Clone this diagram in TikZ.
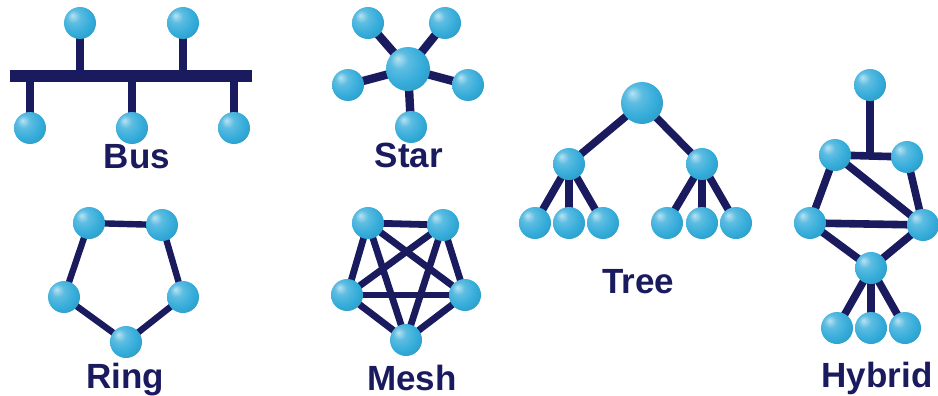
\documentclass[tikz,border=0pt]{standalone}
\usepackage{fontspec}
\setmainfont{Liberation Sans}
\usetikzlibrary{positioning}
\definecolor{netnavy}{RGB}{26,26,94}
\definecolor{netblue}{RGB}{52,172,218}
\pgfdeclareradialshading{netball}{\pgfqpoint{-12bp}{12bp}}{%
  color(0bp)=(netblue!35!white); color(10bp)=(netblue!80!white);
  color(24bp)=(netblue); color(40bp)=(netblue!85!black); color(60bp)=(netblue!55!black)}
\pgfdeclarelayer{bg}
\pgfsetlayers{bg,main}

\begin{document}
\begin{tikzpicture}[x=0.5pt,y=-0.5pt,
  ball/.style={circle,inner sep=0pt,minimum size=16pt,shading=netball},
  hub/.style={ball,minimum size=22pt},
  link/.style={draw=netnavy,line width=3.8pt},
  lbl/.style={anchor=base,font=\fontsize{17.5}{20}\selectfont\bfseries,text=netnavy}]
\useasboundingbox (0,0) rectangle (938,396);
% bus
\node[fill=netnavy,inner sep=0pt,minimum width=121pt,minimum height=6pt] (bar) at (131,76) {};
\node[ball] (bt1) at (80,23) {};
\node[ball] (bt2) at (183,23) {};
\node[ball] (bb1) at (30,128) {};
\node[ball] (bb2) at (132,128) {};
\node[ball] (bb3) at (234,128) {};
\node[lbl] (buslbl) at (137,168) {Bus};
% star
\node[hub] (hub) at (408,69) {};
\node[ball] (s1) at (368,23) {};
\node[ball] (s2) at (445,23) {};
\node[ball] (s3) at (348,85) {};
\node[ball] (s4) at (468,85) {};
\node[ball] (s5) at (411,127) {};
\node[lbl] (starlbl) at (409,167) {Star};
% tree
\node[hub,minimum size=21pt] (root) at (642,103) {};
\node[ball] (tm1) at (569,164) {};
\node[ball] (tm2) at (702,164) {};
\node[ball] (tl1) at (535,223) {};
\node[ball] (tl2) at (569,223) {};
\node[ball] (tl3) at (603,223) {};
\node[ball] (tl4) at (667,223) {};
\node[ball] (tl5) at (702,223) {};
\node[ball] (tl6) at (736,223) {};
\node[lbl] (treelbl) at (638,293) {Tree};
% ring
\node[ball] (r1) at (89,223) {};
\node[ball] (r2) at (162,225) {};
\node[ball] (r3) at (183,297) {};
\node[ball] (r4) at (126,342) {};
\node[ball] (r5) at (64,297) {};
\node[lbl] (ringlbl) at (125,388) {Ring};
% mesh
\node[ball] (ms1) at (368,223) {};
\node[ball] (ms2) at (443,225) {};
\node[ball] (ms3) at (465,295) {};
\node[ball] (ms4) at (406,340) {};
\node[ball] (ms5) at (347,295) {};
\node[lbl] (meshlbl) at (412,390) {Mesh};
% hybrid
\node[ball] (h0) at (870,85) {};
\node[ball] (h1) at (835,155) {};
\node[ball] (h2) at (907,157) {};
\node[ball] (h3) at (810,223) {};
\node[ball] (h4) at (923,225) {};
\node[ball] (h5) at (871,268) {};
\node[ball] (h6) at (837,328) {};
\node[ball] (h7) at (871,328) {};
\node[ball] (h8) at (905,328) {};
\node[lbl] (hyblbl) at (877,387) {Hybrid};

\begin{pgfonlayer}{bg}
\draw[link] (bt1.center)--(bt1 |- bar.center);\draw[link] (bt2.center)--(bt2 |- bar.center);
\draw[link] (bb1.center)--(bb1 |- bar.center);\draw[link] (bb2.center)--(bb2 |- bar.center);\draw[link] (bb3.center)--(bb3 |- bar.center);
\foreach \s in {s1,s2,s3,s4,s5} \draw[link,line width=4.2pt] (hub.center)--(\s.center);
\draw[link] (root.center)--(tm1.center);\draw[link] (root.center)--(tm2.center);
\foreach \l in {tl1,tl2,tl3} \draw[link] (tm1.center)--(\l.center);
\foreach \l in {tl4,tl5,tl6} \draw[link] (tm2.center)--(\l.center);
\draw[link,line width=3.2pt] (r1.center)--(r2.center)--(r3.center)--(r4.center)--(r5.center)--cycle;
\foreach \a/\b in {ms1/ms2,ms1/ms3,ms1/ms4,ms1/ms5,ms2/ms3,ms2/ms4,ms2/ms5,ms3/ms4,ms3/ms5,ms4/ms5}
  \draw[link,line width=3.4pt] (\a.center)--(\b.center);
\draw[link] (h0.center)--(h0 |- h1.center);
\draw[link] (h1.center)--(h2.center);\draw[link] (h1.center)--(h3.center);\draw[link] (h2.center)--(h4.center);
\draw[link] (h1.center)--(h4.center);\draw[link] (h3.center)--(h4.center);
\draw[link] (h3.center)--(h5.center);\draw[link] (h4.center)--(h5.center);
\foreach \b in {h6,h7,h8} \draw[link] (h5.center)--(\b.center);
\end{pgfonlayer}
\end{tikzpicture}
\end{document}
